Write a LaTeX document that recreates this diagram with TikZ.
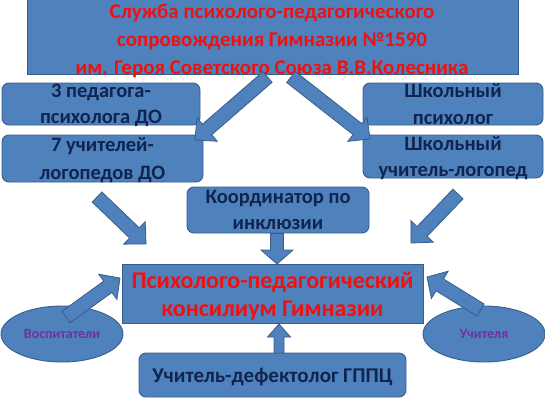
\documentclass[tikz,border=0pt]{standalone}
\usepackage{fontspec}
\setmainfont{Carlito}
\usetikzlibrary{calc,shapes.geometric}
\definecolor{boxblue}{HTML}{4F81BD}
\definecolor{boxline}{HTML}{385D8A}
\definecolor{navy}{HTML}{0F2550}
\definecolor{titlered}{HTML}{F01010}
\definecolor{purp}{HTML}{7030A0}
\newcommand{\blockarr}[5]{%
  \coordinate (hb) at ($(#2)!#5!(#1)$);
  \filldraw[arrowbody] ($(#1)!#3!90:(#2)$) -- ($(hb)!#3!90:(#2)$) -- ($(hb)!#4!90:(#2)$) -- (#2) -- ($(hb)!#4!-90:(#2)$) -- ($(hb)!#3!-90:(#2)$) -- ($(#1)!#3!-90:(#2)$) -- cycle;
}
\tikzset{
  sqbox/.style={draw=boxline, fill=boxblue, line width=0.9pt, inner sep=0pt},
  rbox/.style={sqbox, rounded corners=7pt, align=center, text=navy, text depth=0pt, font=\fontsize{20.5}{24.5}\selectfont\bfseries},
  oval/.style={draw=boxline, fill=boxblue, line width=0.9pt, ellipse, inner sep=0pt, text=purp, font=\fontsize{14}{16}\selectfont\bfseries},
  redtxt/.style={text=titlered, align=center, inner sep=0pt, text depth=0pt},
  arrowbody/.style={draw=boxline, fill=boxblue, line width=0.8pt, line join=miter},
}
\begin{document}
\begin{tikzpicture}[x=1pt, y=-1pt]
\useasboundingbox (0,0) rectangle (545,402);
% top box
\node[sqbox, minimum width=491pt, minimum height=84pt] (top) at (272.5,32) {};
\node[redtxt, font=\fontsize{21}{26}\selectfont\bfseries] (toptxt) at (272,39) {Служба психолого-педагогического\\[2pt]сопровождения Гимназии №1590\\[2pt]им. Героя Советского Союза В.В.Колесника};
% left boxes
\node[rbox, minimum width=198pt, minimum height=42pt] (l1) at (101,104) {3 педагога-\\[1pt]психолога ДО};
\node[rbox, minimum width=201pt, minimum height=47pt] (l2) at (102.5,158.5) {7 учителей-\\[3pt]логопедов ДО};
% right boxes
\node[rbox, minimum width=180pt, minimum height=42pt] (r1) at (453,104) {Школьный\\[2pt]психолог};
\node[rbox, minimum width=180pt, minimum height=43pt] (r2) at (453,156.5) {Школьный\\[2pt]учитель-логопед};
% coordinator
\node[rbox, minimum width=182pt, minimum height=46pt] (coord) at (278,210) {Координатор по\\[1pt]инклюзии};
% council
\node[sqbox, minimum width=301pt, minimum height=59pt, redtxt, font=\fontsize{24}{26}\selectfont\bfseries] (cons) at (272.5,294) {Психолого-педагогический\\[2pt]консилиум Гимназии};
% bottom
\node[rbox, minimum width=267pt, minimum height=44pt, font=\fontsize{21}{25}\selectfont\bfseries] (defect) at (272.5,375) {Учитель-дефектолог ГППЦ};
% ellipses
\node[oval, minimum width=122pt, minimum height=56pt] (vosp) at (62,334) {Воспитатели};
\node[oval, minimum width=122pt, minimum height=56pt] (uch) at (484,334) {Учителя};
% arrow endpoints
\coordinate (a1s) at (267.5,77);
\coordinate (a1e) at (195,140);
\coordinate (a2s) at (291,77);
\coordinate (a2e) at (370,139);
\coordinate (a3s) at (97,197);
\coordinate (a3e) at (146,244);
\coordinate (a4s) at (458,194);
\coordinate (a4e) at (411,243);
\coordinate (a5s) at (277,233.5);
\coordinate (a5e) at (277,264);
\coordinate (a6s) at (279,353);
\coordinate (a6e) at (279,324);
\coordinate (a7s) at (66,317);
\coordinate (a7e) at (120,278);
\coordinate (a8s) at (480.5,310);
\coordinate (a8e) at (427,277);
\blockarr{a1s}{a1e}{7pt}{15.5pt}{16pt}
\blockarr{a2s}{a2e}{7pt}{15.5pt}{16pt}
\blockarr{a3s}{a3e}{7pt}{15.5pt}{16pt}
\blockarr{a4s}{a4e}{7pt}{15.5pt}{16pt}
\blockarr{a5s}{a5e}{6.5pt}{16pt}{14pt}
\blockarr{a6s}{a6e}{5pt}{11.5pt}{13pt}
\blockarr{a7s}{a7e}{7pt}{15.5pt}{15pt}
\blockarr{a8s}{a8e}{7pt}{16pt}{15pt}
\end{tikzpicture}
\end{document}
